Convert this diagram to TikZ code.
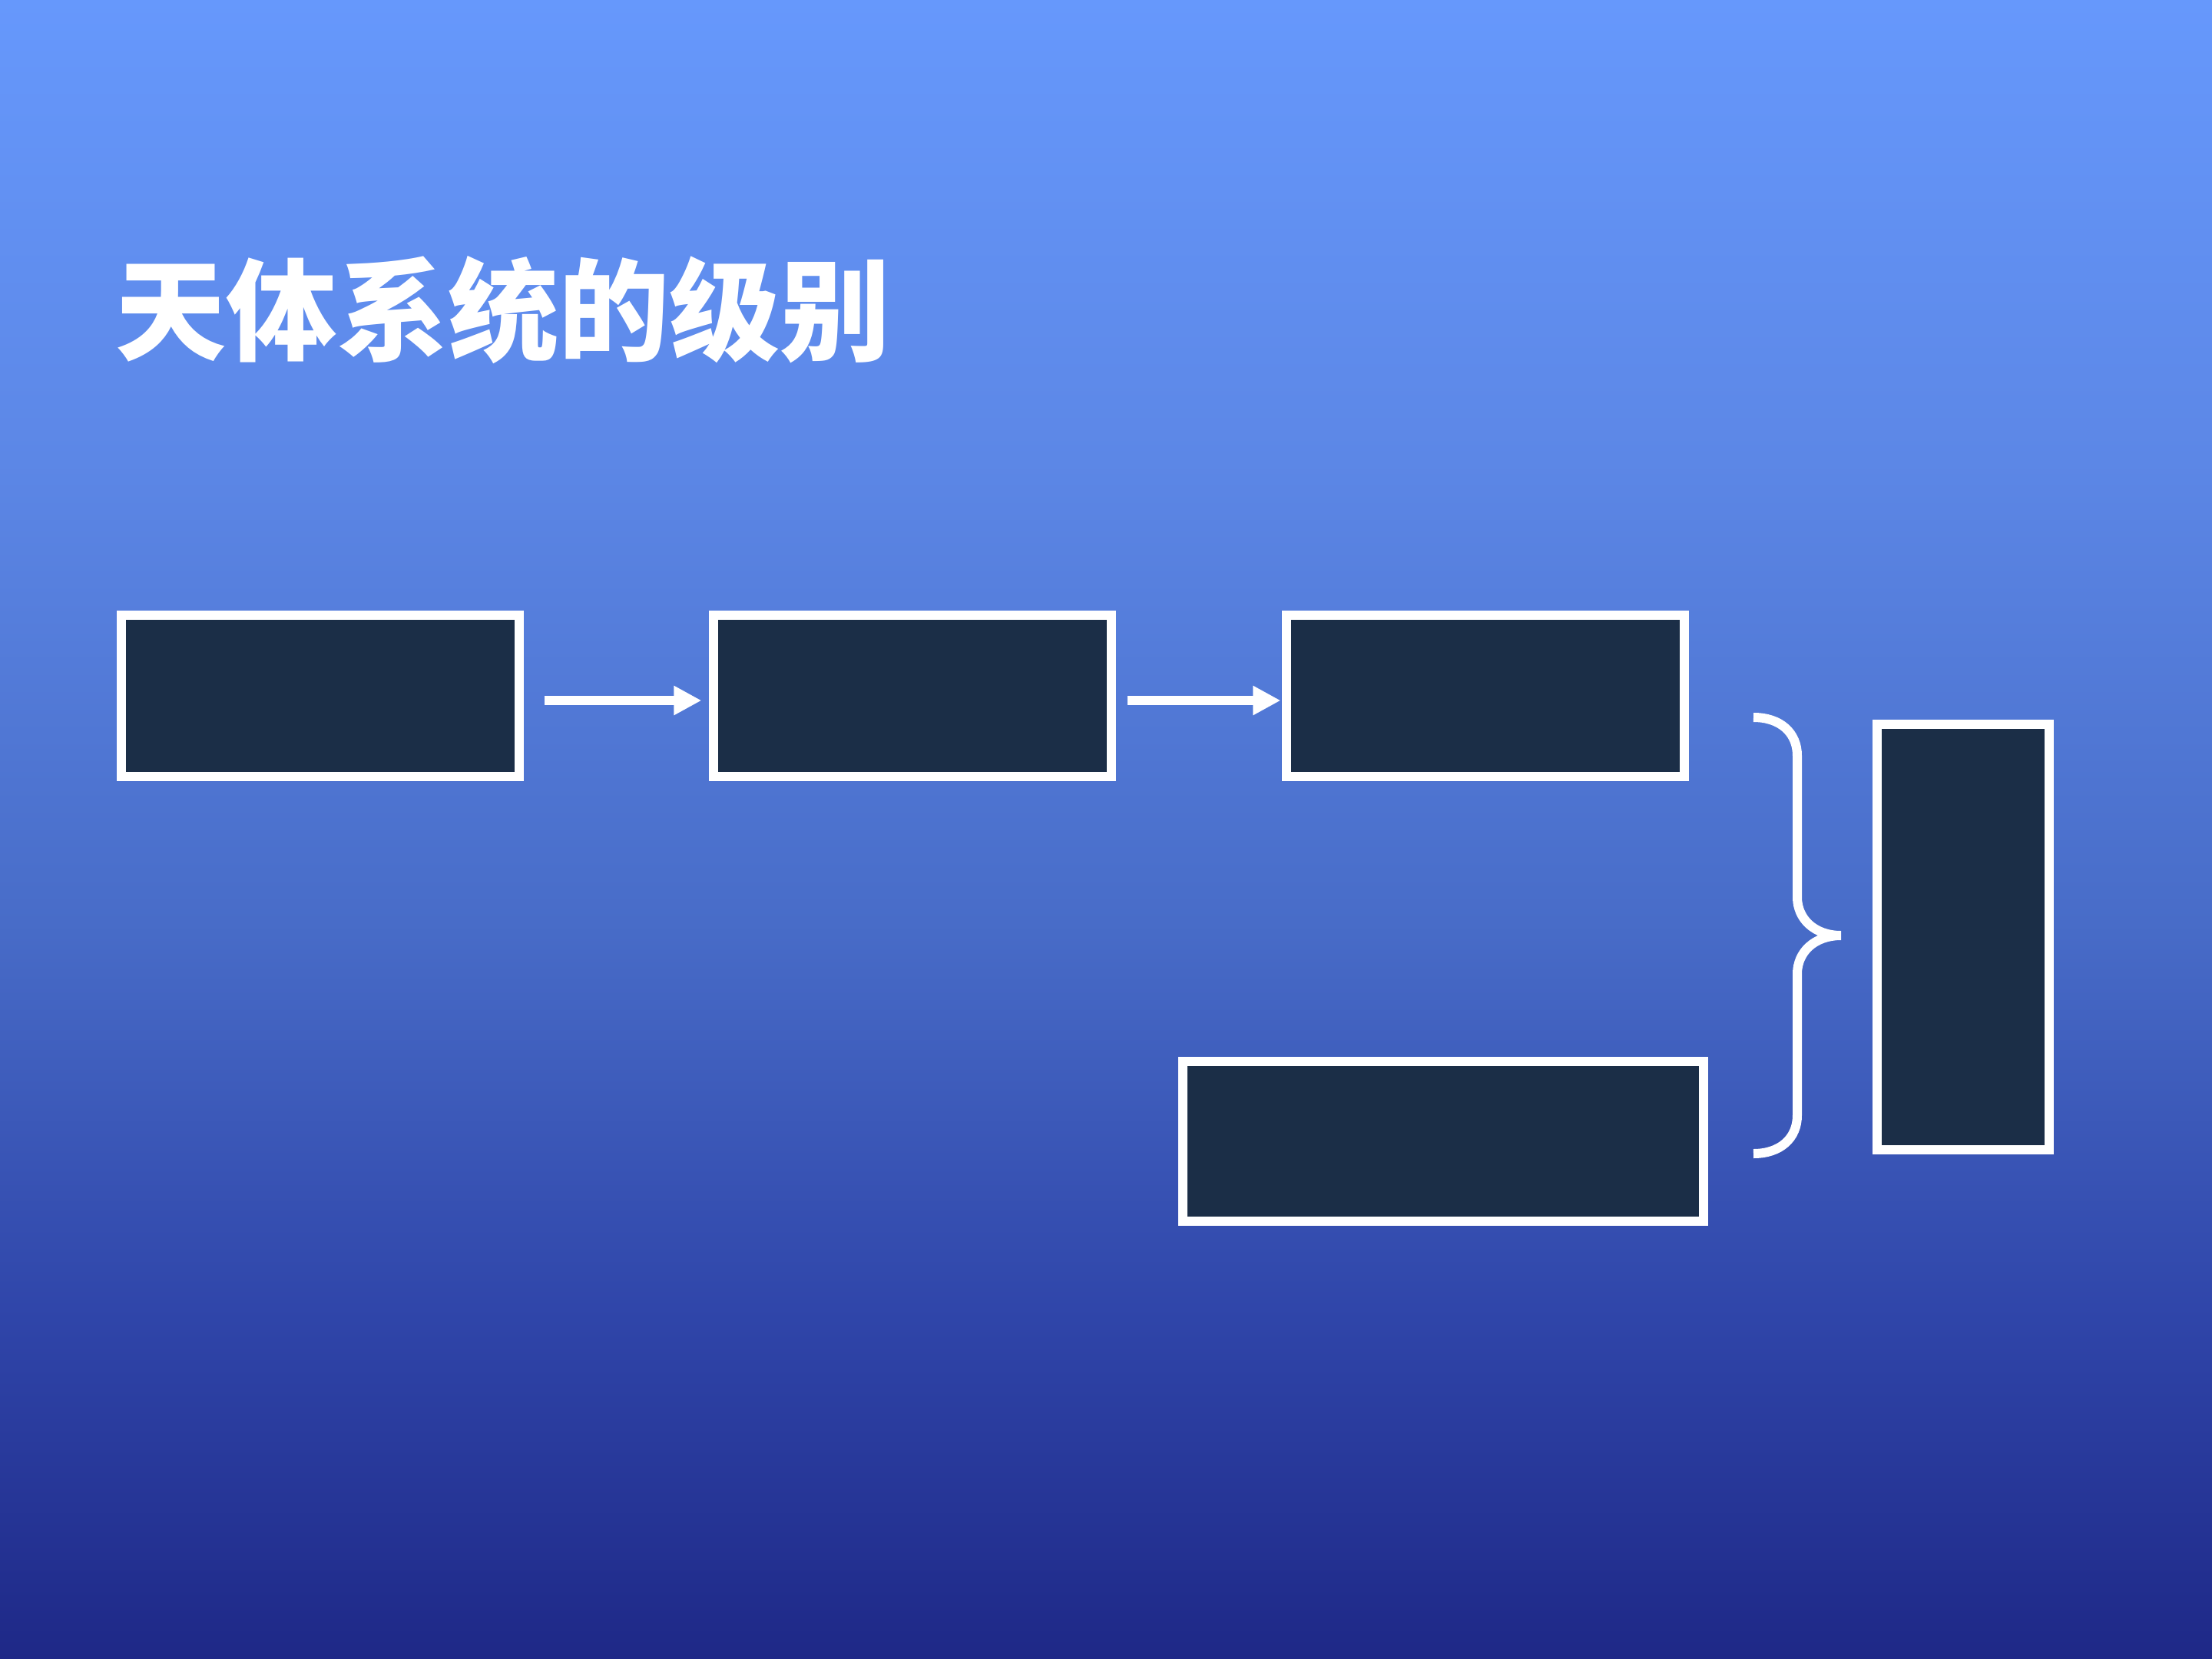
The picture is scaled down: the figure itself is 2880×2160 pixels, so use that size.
\documentclass[tikz,border=0pt]{standalone}
\usepackage{fontspec}
\usepackage{tikz}
\usepackage{xcolor}
\usetikzlibrary{arrows.meta,calc}
\newfontfamily\cjk{Noto Sans CJK SC}
\definecolor{boxfill}{RGB}{27,46,71}
\pgfdeclareverticalshading{skyshade}{100bp}{%
  rgb(0bp)=(0.118,0.157,0.529);
  rgb(25bp)=(0.118,0.157,0.529);
  rgb(35.65bp)=(0.188,0.275,0.667);
  rgb(47.2bp)=(0.282,0.424,0.784);
  rgb(61.1bp)=(0.361,0.529,0.902);
  rgb(75bp)=(0.4,0.596,0.988);
  rgb(100bp)=(0.4,0.596,0.988)}
\tikzset{
  levelbox/.style={draw=white,fill=boxfill,line width=0.12cm,inner sep=0pt},
  flow/.style={draw=white,line width=0.12cm,-{Triangle[length=0.36cm,width=0.36cm]}}
}

\begin{document}
\begin{tikzpicture}[x=0.01cm,y=-0.01cm,line join=miter]
  \useasboundingbox (0,0) rectangle (2880,2160);
  \shade[shading=skyshade] (0,0) rectangle (2880,2160);
  % title
  \node[anchor=west,inner sep=0pt,text=white,font=\cjk\bfseries\fontsize{41pt}{41pt}\selectfont] (title) at (150,404) {天体系统的级别};
  % boxes
  \node[levelbox,minimum width=5.17cm,minimum height=2.09cm] (b1) at (417,906) {};
  \node[levelbox,minimum width=5.17cm,minimum height=2.09cm] (b2) at (1188,906) {};
  \node[levelbox,minimum width=5.17cm,minimum height=2.09cm] (b3) at (1934,906) {};
  \node[levelbox,minimum width=6.77cm,minimum height=2.08cm] (b4) at (1879,1486) {};
  \node[levelbox,minimum width=2.23cm,minimum height=5.53cm] (b5) at (2556,1220) {};
  % arrows
  \draw[flow,shorten <=0.27cm,shorten >=0.1cm] ([yshift=-0.06cm]b1.east) -- ([yshift=-0.06cm]b2.west);
  \draw[flow,shorten <=0.15cm,shorten >=0.02cm] ([yshift=-0.06cm]b2.east) -- ([yshift=-0.06cm]b3.west);
  % brace
  \draw[white,line width=0.12cm,line cap=butt]
    (2283,934) .. controls (2318,934) and (2340,954) .. (2340,984)
    -- (2340,1168) .. controls (2340,1196) and (2362,1218) .. (2397,1218)
    .. controls (2362,1218) and (2340,1240) .. (2340,1268)
    -- (2340,1452) .. controls (2340,1482) and (2318,1502) .. (2283,1502);
\end{tikzpicture}
\end{document}
